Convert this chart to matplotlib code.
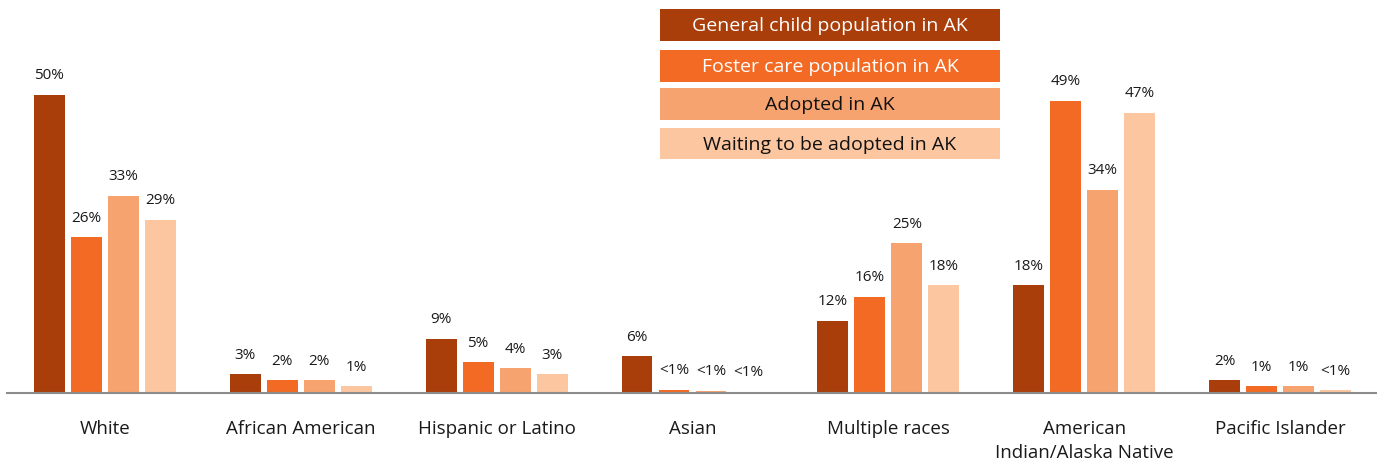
import matplotlib
matplotlib.use("Agg")
import matplotlib.pyplot as plt
from matplotlib.patches import Rectangle
import numpy as np

plt.rcParams['font.family'] = ['Open Sans', 'DejaVu Sans']

categories = ["White", "African American", "Hispanic or Latino", "Asian",
              "Multiple races", "American\nIndian/Alaska Native", "Pacific Islander"]
series_names = ["General child population in AK", "Foster care population in AK",
                "Adopted in AK", "Waiting to be adopted in AK"]
general = [50, 3, 9, 6, 12, 18, 2]
foster = [26, 2, 5, 0.4, 16, 49, 1]
adopted = [33, 2, 4, 0.2, 25, 34, 1]
waiting = [29, 1, 3, 0.1, 18, 47, 0.3]
general_lbl = ["50%", "3%", "9%", "6%", "12%", "18%", "2%"]
foster_lbl = ["26%", "2%", "5%", "<1%", "16%", "49%", "1%"]
adopted_lbl = ["33%", "2%", "4%", "<1%", "25%", "34%", "1%"]
waiting_lbl = ["29%", "1%", "3%", "<1%", "18%", "47%", "<1%"]

colors = ["#A93E0A", "#F26A24", "#F7A370", "#FCC6A0"]
text_colors = ["white", "white", "#111111", "#111111"]

fig = plt.figure(figsize=(13.77, 4.64), dpi=100)
ax = fig.add_axes([7/1377, 70/464, 1371/1377, 394/464])

x = np.arange(len(categories))
step = 0.189
width = 0.158
all_vals = [general, foster, adopted, waiting]
all_lbls = [general_lbl, foster_lbl, adopted_lbl, waiting_lbl]
for i, (vals, lbls) in enumerate(zip(all_vals, all_lbls)):
    pos = x + (i - 1.5) * step
    bars = ax.bar(pos, vals, width=width, color=colors[i], zorder=2)
    for b, l in zip(bars, lbls):
        ax.annotate(l, (b.get_x() + b.get_width() / 2, b.get_height()),
                    xytext=(0, 9), textcoords="offset points",
                    ha="center", va="bottom", fontsize=11, color="#1a1a1a")

ax.set_xlim(-0.5, 6.5)
ax.set_ylim(-0.15, 394 / 5.96)
ax.set_xticks(x)
ax.set_xticklabels(categories, fontsize=13.5, color="#1a1a1a", linespacing=1.4)
ax.tick_params(axis="x", length=0, pad=19)
ax.set_yticks([])
for s in ["top", "right", "left"]:
    ax.spines[s].set_visible(False)
ax.spines["bottom"].set_color("#8c8c8c")
ax.spines["bottom"].set_linewidth(1.5)

# legend boxes
W, H = 1377, 464
rows = [(10, 42), (51, 83), (89, 121), (129, 160)]
for i, (t, b) in enumerate(rows):
    rect = Rectangle((660 / W, 1 - b / H), 340 / W, (b - t) / H,
                     transform=fig.transFigure, facecolor=colors[i],
                     edgecolor="none")
    fig.patches.append(rect)
    fig.text(830 / W, 1 - (t + b) / 2 / H, series_names[i], ha="center", va="center",
             fontsize=14, color=text_colors[i])

fig.savefig("out.png", dpi=100)
